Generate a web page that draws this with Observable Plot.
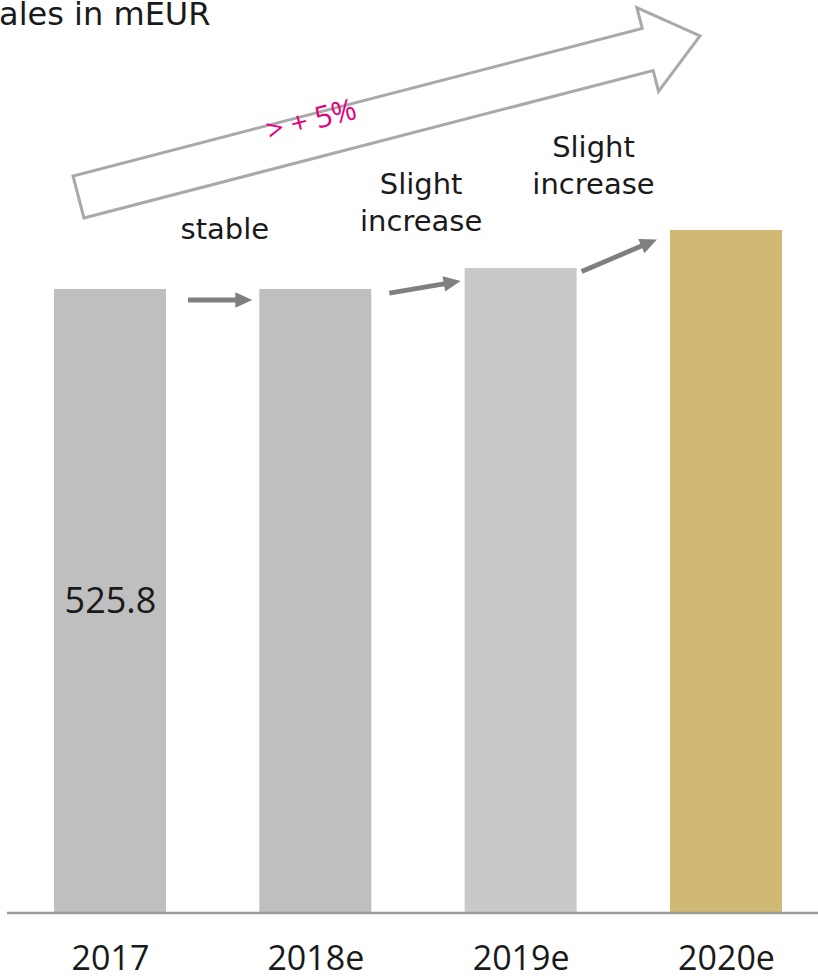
<!DOCTYPE html>
<html>
<head>
<meta charset="utf-8">
<script src="https://cdn.jsdelivr.net/npm/d3@7"></script>
<script src="https://cdn.jsdelivr.net/npm/@observablehq/plot@0.6"></script>
<style>
  html, body { margin: 0; padding: 0; background: #fff; }
  #chart svg { display: block; }
</style>
</head>
<body>
<div id="chart"></div>
<script>
// ---- data ----
const years = ["2017", "2018e", "2019e", "2020e"];
const sales = [525.8, 525.8, 543.5, 575.6];           // mEUR
const barColors = ["#bfbfbf", "#bfbfbf", "#c9c9c9", "#cfb974"];
const trendLabels = ["stable", "Slight\nincrease", "Slight\nincrease"];
const trendArrowStart = [516.5, 522.4, 540.6];        // mEUR level of small arrow tails
const trendArrowEnd = [516.5, 532.5, 567.6];          // mEUR level of small arrow heads
const overallLabel = "> + 5%";
const overallArrowY = [603.4, 739.2];                 // tail / tip level of the big arrow
const title = "Sales in mEUR";

const data = years.map((year, i) => ({year, value: sales[i], color: barColors[i]}));

// ---- annotation layer using the plot's scales ----
function arrowPath(x1, y1, x2, y2, shaftHalf, headLen, headHalf) {
  const dx = x2 - x1, dy = y2 - y1, L = Math.hypot(dx, dy);
  const ux = dx / L, uy = dy / L, px = -uy, py = ux;
  const bx = x2 - ux * headLen, by = y2 - uy * headLen;
  const pts = [
    [x1 + px * shaftHalf, y1 + py * shaftHalf],
    [bx + px * shaftHalf, by + py * shaftHalf],
    [bx + px * headHalf, by + py * headHalf],
    [x2, y2],
    [bx - px * headHalf, by - py * headHalf],
    [bx - px * shaftHalf, by - py * shaftHalf],
    [x1 - px * shaftHalf, y1 - py * shaftHalf]
  ];
  return "M" + pts.map(p => p[0].toFixed(2) + "," + p[1].toFixed(2)).join("L") + "Z";
}

function arrowsMark(index, scales) {
  const x = scales.x, y = scales.y;
  const bw = x.bandwidth ? x.bandwidth() : 0;
  const ns = "http://www.w3.org/2000/svg";
  const g = document.createElementNS(ns, "g");
  // big hollow trend arrow
  const big = document.createElementNS(ns, "path");
  big.setAttribute("d", arrowPath(
    x(years[0]) + 24.5, y(overallArrowY[0]),
    x(years[3]) + 30, y(overallArrowY[1]),
    21.7, 54, 43.3));
  big.setAttribute("fill", "#ffffff");
  big.setAttribute("stroke", "#a9a9a9");
  big.setAttribute("stroke-width", "3");
  big.setAttribute("stroke-linejoin", "miter");
  g.appendChild(big);
  // small arrows between bars
  const gapStart = [22, 18, 5], gapEnd = [7, 4, 13];
  for (let i = 0; i < 3; i++) {
    const p = document.createElementNS(ns, "path");
    p.setAttribute("d", arrowPath(
      x(years[i]) + bw + gapStart[i], y(trendArrowStart[i]),
      x(years[i + 1]) - gapEnd[i], y(trendArrowEnd[i]),
      2.4, 17, 7.8));
    p.setAttribute("fill", "#7f7f7f");
    g.appendChild(p);
  }
  return g;
}

const trendDx = [-91, -100, -133];
const trendDy = [-50, -37, -36];

const chart = Plot.plot({
  width: 818,
  height: 979,
  marginLeft: 7,
  marginRight: 0,
  marginTop: 0,
  marginBottom: 66.5,
  style: {fontFamily: "Open Sans", background: "#ffffff"},
  x: {domain: years, paddingInner: 0.4545, paddingOuter: 0.2021, align: 0.566, round: false, label: null, axis: null},
  y: {domain: [0, 769.5], axis: null, label: null},
  color: {type: "identity"},
  marks: [
    Plot.barY(data, {x: "year", y: "value", fill: "color"}),
    Plot.ruleY([0], {stroke: "#9a9a9a", strokeWidth: 2.5}),
    Plot.axisX({tickSize: 0, tickPadding: 32.5, fontSize: 34, fontFamily: "Open Sans", color: "#1a1a1a", label: null}),
    Plot.text(data.slice(0, 1), {
      x: "year", y: d => d.value / 2, text: d => d.value.toFixed(1),
      fontSize: 36, fontFamily: "Open Sans", fill: "#1a1a1a"
    }),
    arrowsMark,
    ...trendLabels.map((t, i) => Plot.text([t], {
      x: () => years[i + 1], y: () => sales[i + 1], text: d => d,
      dx: trendDx[i], dy: trendDy[i], lineAnchor: "bottom", lineHeight: 1.3,
      fontSize: 29, fontFamily: "DejaVu Sans", fill: "#1a1a1a"
    })),
    Plot.text([overallLabel], {
      frameAnchor: "top-left", text: d => d, dx: 304, dy: 120, rotate: -14.5,
      textAnchor: "middle", lineAnchor: "middle",
      fontSize: 30, fontFamily: "Open Sans", fill: "#e6007e"
    }),
    Plot.text([title], {
      frameAnchor: "top-left", text: d => d, dx: 203, dy: 24,
      textAnchor: "end", lineAnchor: "bottom",
      fontSize: 32, fontFamily: "DejaVu Sans", fill: "#1a1a1a"
    })
  ]
});
document.getElementById("chart").appendChild(chart);
</script>
</body>
</html>
